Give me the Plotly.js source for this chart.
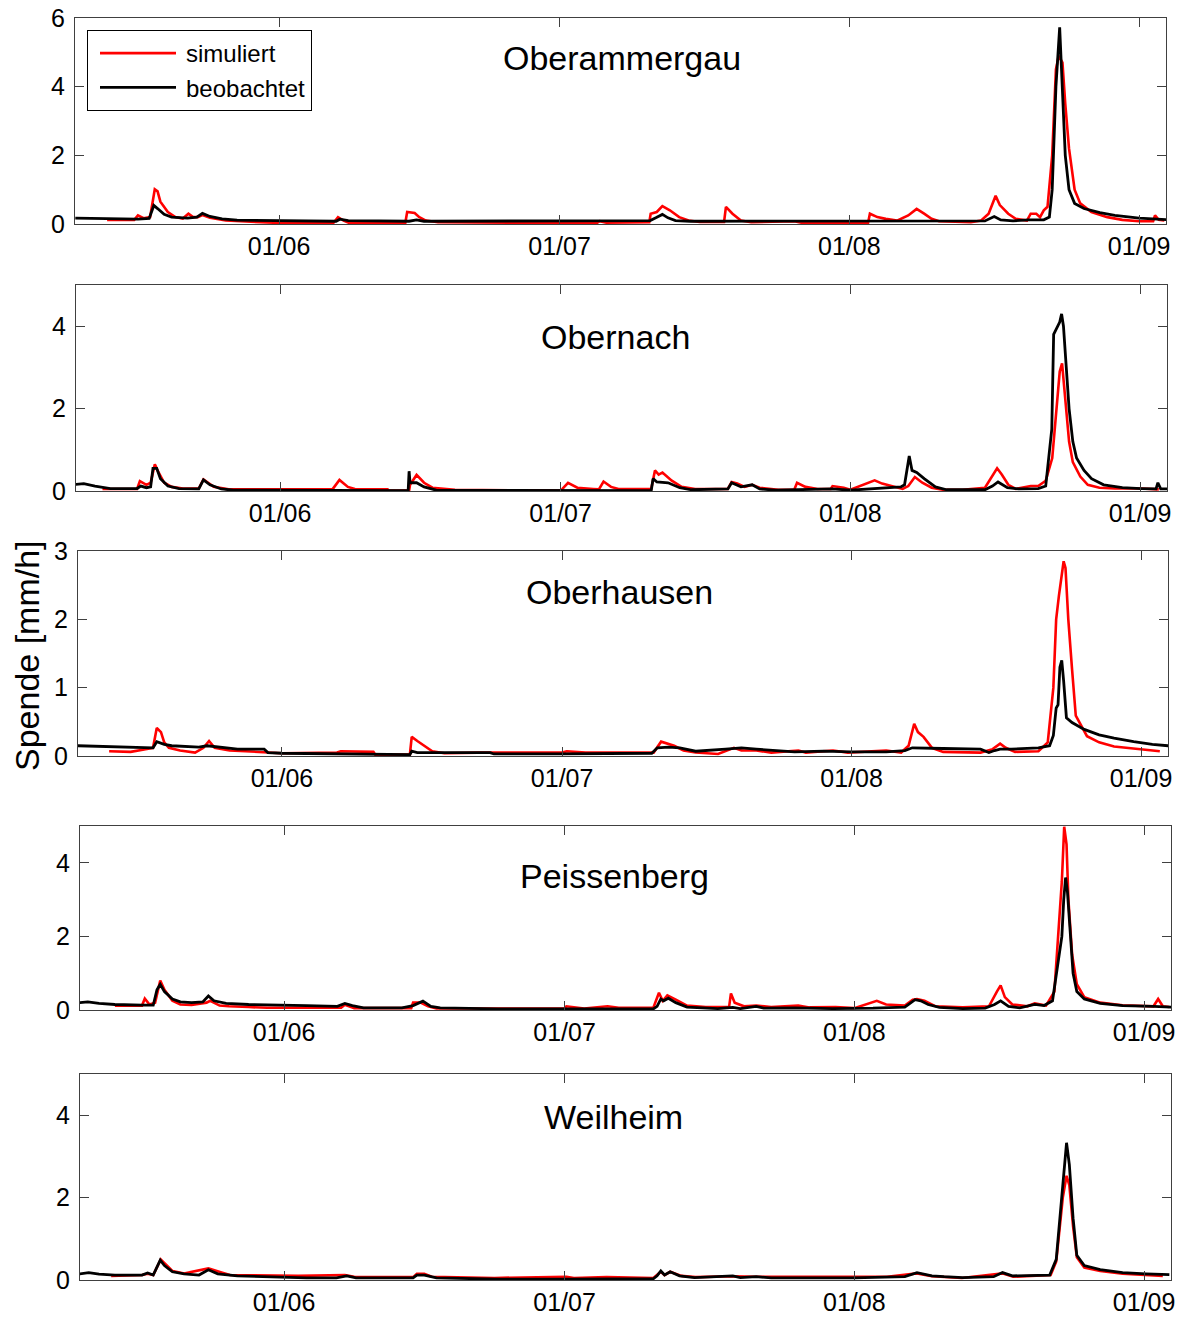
<!DOCTYPE html>
<html>
<head>
<meta charset="utf-8">
<script src="https://cdn.plot.ly/plotly-3.0.1.min.js"></script>
<style>
  html, body { margin: 0; padding: 0; background: #ffffff; }
  #chart { width: 1179px; height: 1317px; }
</style>
</head>
<body>
<div id="chart"></div>
<script>
// Abflussspende, Sommer 2005: simuliert vs. beobachtet
// Zeitangaben: Tage seit 10.05.2005 00:00, Werte in mm/h

const stations = ['Oberammergau', 'Obernach', 'Oberhausen', 'Peissenberg', 'Weilheim'];
const yMax = [6, 5, 3, 5, 5];
const yStep = [2, 2, 1, 2, 2];
const monthTicks = ['2005-06-01', '2005-07-01', '2005-08-01', '2005-09-01'];
const monthLabels = ['01/06', '01/07', '01/08', '01/09'];
const seriesNames = ['simuliert', 'beobachtet'];

// [Tag, Spende]
const oberammergauSim = [
  [3.6,0.12],[6.5,0.12],[6.9,0.25],[7.5,0.17],[8.2,0.2],[8.7,1.01],[9.0,0.95],[9.3,0.65],[10.1,0.35],
  [10.9,0.2],[11.7,0.16],[12.3,0.3],[12.8,0.2],[13.3,0.2],[13.8,0.26],[14.6,0.18],[16.3,0.1],[20.8,0.05],
  [22,0.03],[27.8,0.03],[28.3,0.2],[28.9,0.1],[29.5,0.03],[35.5,0.03],[35.7,0.35],[36.5,0.32],[37.0,0.2],
  [37.7,0.1],[39,0.05],[52,0.03],[56,0.03],[56.3,0.08],[57,0.04],[61.6,0.05],[61.75,0.3],[62.4,0.35],
  [63,0.52],[63.8,0.4],[64.8,0.2],[65.8,0.1],[67,0.06],[69.6,0.06],[69.8,0.5],[70.5,0.3],[71.4,0.1],
  [72.5,0.05],[77.1,0.08],[78,0.03],[85,0.03],[85.2,0.3],[86,0.2],[86.9,0.15],[88.1,0.1],[89.3,0.25],
  [90.2,0.44],[91,0.3],[91.8,0.15],[92.6,0.08],[96,0.05],[97.1,0.1],[97.9,0.3],[98.65,0.82],[99.1,0.55],
  [100,0.3],[100.8,0.15],[102,0.1],[102.4,0.3],[103,0.3],[103.4,0.2],[103.8,0.4],[104.2,0.5],[104.7,2.0],
  [105.1,4.5],[105.4,4.9],[105.8,4.7],[106.1,3.5],[106.5,2.2],[107.1,1.0],[107.7,0.6],[108.9,0.35],
  [110.6,0.2],[112.2,0.12],[114,0.08],[115.5,0.08],[115.7,0.25],[116.1,0.12],[116.7,0.1]
];
const oberammergauObs = [
  [0.2,0.17],[2.4,0.16],[4.4,0.14],[6.9,0.14],[8.1,0.16],[8.6,0.54],[9.0,0.45],[9.7,0.28],[10.5,0.2],
  [12.2,0.17],[13.2,0.2],[13.8,0.31],[14.6,0.22],[15.9,0.15],[17.5,0.11],[22,0.09],[28.1,0.08],[28.5,0.14],
  [29.4,0.1],[35.9,0.08],[36.7,0.12],[37.5,0.08],[56,0.08],[56.2,0.1],[57,0.08],[61.7,0.1],[62.3,0.18],
  [63,0.28],[63.6,0.18],[64.4,0.1],[66,0.08],[77,0.09],[85,0.08],[97.5,0.09],[98.5,0.22],[99.2,0.12],
  [100.5,0.09],[102.2,0.12],[103.8,0.12],[104.4,0.2],[104.7,1.0],[105.1,4.0],[105.5,5.73],[105.8,4.0],
  [106.1,2.0],[106.5,1.0],[107.1,0.6],[108.1,0.45],[109.8,0.33],[111.4,0.25],[114,0.17],[116.9,0.13]
];

const obernachSim = [
  [3,0.05],[6.7,0.05],[7.0,0.24],[7.7,0.15],[8.15,0.2],[8.6,0.65],[9.0,0.45],[9.6,0.2],[10.4,0.1],
  [11.6,0.06],[13.3,0.06],[13.8,0.28],[14.9,0.1],[16.5,0.04],[27.6,0.04],[28.35,0.27],[29.25,0.1],
  [30,0.05],[33.5,0.04],[33.6,0.01],[35.8,0.01],[35.9,0.15],[36.6,0.39],[37.4,0.2],[38.3,0.08],[40.7,0.03],
  [52,0.01],[52.2,0.05],[52.8,0.2],[53.8,0.08],[55.5,0.05],[56.1,0.04],[56.6,0.23],[57.4,0.1],[58.2,0.05],
  [61.7,0.05],[62.1,0.5],[62.5,0.4],[62.9,0.45],[63.9,0.25],[64.95,0.1],[66.4,0.05],[69.9,0.05],[70.3,0.22],
  [70.9,0.18],[71.7,0.1],[72.5,0.15],[73.3,0.08],[75.3,0.03],[77,0.03],[77.3,0.2],[78.2,0.1],[79.5,0.05],
  [80.9,0.05],[81.1,0.12],[81.7,0.1],[82.3,0.08],[83,0.03],[85.6,0.26],[86.4,0.18],[88,0.08],[88.6,0.05],
  [89.2,0.12],[89.9,0.34],[90.7,0.2],[91.7,0.08],[92.9,0.03],[95,0.03],[97.4,0.08],[98.2,0.35],[98.7,0.55],
  [99.2,0.4],[99.9,0.15],[100.7,0.05],[102.3,0.12],[103.1,0.12],[103.9,0.25],[104.6,0.8],[105,1.8],
  [105.4,2.9],[105.65,3.1],[106,2.2],[106.4,1.2],[106.8,0.7],[107.6,0.35],[108.4,0.15],[109.65,0.08],
  [111.3,0.06],[114.1,0.06],[116,0.04]
];
const obernachObs = [
  [0.15,0.16],[1.0,0.18],[2.2,0.12],[3.85,0.06],[6.7,0.06],[7.1,0.12],[7.7,0.08],[8.15,0.1],[8.4,0.55],
  [8.8,0.55],[9.2,0.3],[10,0.12],[11.2,0.06],[13.3,0.05],[13.8,0.27],[14.5,0.15],[15.7,0.05],[17,0.02],
  [35.7,0.01],[35.8,0.48],[35.9,0.2],[36.6,0.2],[37.4,0.1],[38.7,0.02],[61.7,0.01],[61.9,0.3],[62.3,0.22],
  [63.5,0.2],[64.75,0.08],[66,0.03],[69.9,0.05],[70.3,0.2],[71.3,0.1],[72.5,0.15],[73.3,0.05],[75,0.02],
  [81.1,0.05],[83,0.02],[88.4,0.1],[88.8,0.15],[89.3,0.85],[89.6,0.5],[90.1,0.45],[90.9,0.3],[92.1,0.1],
  [93.3,0.03],[97.4,0.03],[98.2,0.12],[98.8,0.22],[99.8,0.08],[101,0.05],[103.1,0.06],[103.9,0.12],
  [104.55,1.5],[104.75,3.8],[105.1,3.95],[105.4,4.1],[105.6,4.3],[105.8,4.0],[106.1,3.0],[106.4,2.0],
  [106.8,1.2],[107.2,0.8],[108,0.5],[108.8,0.3],[110.1,0.15],[112.1,0.08],[114.1,0.06],[115.7,0.05],
  [115.9,0.2],[116.2,0.05],[116.9,0.05]
];

const oberhausenSim = [
  [3.5,0.07],[5.8,0.06],[7.4,0.1],[8.2,0.12],[8.6,0.41],[9.05,0.35],[9.4,0.2],[9.9,0.12],[11.1,0.08],
  [12.7,0.05],[13.6,0.12],[14.2,0.22],[14.8,0.12],[16.4,0.08],[18.1,0.07],[20.5,0.05],[22,0.04],[27.9,0.05],
  [28.3,0.07],[31.8,0.06],[32,0.02],[35.7,0.02],[35.9,0.28],[36.5,0.22],[37.3,0.15],[38.1,0.07],[39.4,0.04],
  [43,0.05],[52,0.05],[52.5,0.07],[54.5,0.05],[61.8,0.05],[62.6,0.21],[63.2,0.18],[64,0.15],[65,0.08],
  [66.3,0.05],[68.7,0.03],[70.4,0.12],[71.2,0.08],[72.8,0.08],[74.4,0.05],[77.3,0.08],[78.1,0.05],[81,0.08],
  [82.6,0.05],[86.7,0.08],[88.3,0.05],[89.1,0.15],[89.7,0.47],[90.1,0.35],[90.7,0.28],[91.6,0.12],[92.8,0.06],
  [96.8,0.05],[98.1,0.1],[98.9,0.18],[99.5,0.12],[100.5,0.06],[103,0.07],[104,0.2],[104.6,1.0],[104.9,2.0],
  [105.2,2.35],[105.5,2.65],[105.7,2.85],[105.9,2.75],[106.2,2.0],[106.6,1.27],[107.0,0.59],[108.2,0.29],
  [109.5,0.2],[111.1,0.14],[113.2,0.11],[116,0.07]
];
const oberhausenObs = [
  [0.15,0.15],[3,0.14],[7.4,0.13],[8.2,0.12],[8.6,0.21],[9.4,0.17],[10.2,0.15],[13.1,0.13],[14,0.15],
  [14.8,0.14],[17.25,0.1],[20.1,0.1],[20.5,0.05],[22,0.04],[32,0.03],[35.7,0.02],[35.9,0.07],[36.5,0.05],
  [44.3,0.05],[44.7,0.03],[52,0.03],[61.6,0.04],[62.2,0.12],[63.4,0.13],[64.6,0.12],[66.3,0.07],[69.5,0.1],
  [71.2,0.12],[72.8,0.1],[75.3,0.07],[76.9,0.06],[80,0.07],[83,0.06],[86.7,0.06],[88.7,0.08],[89.5,0.12],
  [90.7,0.12],[92.8,0.11],[96.8,0.1],[97.7,0.05],[98.3,0.08],[98.9,0.1],[100.1,0.1],[103,0.12],[104.2,0.15],
  [104.6,0.3],[104.9,0.7],[105.1,0.75],[105.3,1.3],[105.5,1.4],[105.7,1.1],[106,0.56],[106.6,0.49],
  [107.9,0.39],[109.5,0.31],[111.1,0.26],[113.2,0.21],[115.2,0.17],[116.9,0.15]
];

const peissenbergSim = [
  [3.9,0.12],[6.8,0.12],[7.1,0.31],[7.6,0.15],[8.2,0.2],[8.75,0.8],[9.2,0.55],[10.05,0.25],[10.9,0.15],
  [12.1,0.14],[13.7,0.2],[14.1,0.25],[15.1,0.12],[16.1,0.1],[18.2,0.08],[20.2,0.06],[28.1,0.06],[28.5,0.14],
  [29.5,0.05],[35.6,0.05],[35.8,0.2],[36.6,0.2],[37.4,0.1],[38.3,0.04],[44,0.04],[52,0.04],[52.2,0.1],
  [53.4,0.05],[54.1,0.04],[56.6,0.1],[57.8,0.06],[61.5,0.06],[62.1,0.47],[62.5,0.25],[63,0.4],[63.9,0.28],
  [65.1,0.12],[67.1,0.08],[69.6,0.08],[69.8,0.45],[70.2,0.2],[71.2,0.1],[72.5,0.12],[74.1,0.08],[77,0.12],
  [78.2,0.07],[81,0.08],[83,0.05],[85.4,0.25],[86.4,0.15],[88.4,0.12],[89.25,0.28],[89.7,0.3],[90.5,0.25],
  [91.7,0.1],[94.6,0.07],[97.4,0.1],[98.25,0.5],[98.65,0.67],[99.1,0.35],[99.9,0.15],[101.5,0.1],[102.3,0.18],
  [103.5,0.12],[104.4,0.5],[104.8,2.0],[105.2,3.5],[105.45,4.98],[105.7,4.5],[105.9,3.0],[106.3,1.5],
  [106.8,0.7],[107.6,0.35],[109.3,0.2],[111.7,0.13],[115,0.1],[115.5,0.3],[116,0.1],[116.7,0.08]
];
const peissenbergObs = [
  [0.15,0.2],[1,0.22],[2.2,0.18],[3.9,0.15],[6.8,0.13],[8,0.13],[8.4,0.55],[8.75,0.7],[9.2,0.5],[10.05,0.3],
  [10.9,0.22],[12.1,0.2],[13.3,0.22],[13.9,0.38],[14.5,0.25],[15.8,0.18],[18.2,0.15],[22,0.12],[24.4,0.12],
  [27.7,0.1],[28.5,0.18],[29.3,0.12],[30.5,0.06],[34.6,0.06],[35.8,0.12],[36.85,0.24],[37.7,0.1],[38.7,0.06],
  [41.6,0.05],[44.9,0.03],[52,0.03],[61.5,0.03],[61.9,0.1],[62.3,0.3],[62.6,0.25],[63.1,0.32],[63.9,0.2],
  [65.1,0.08],[68.4,0.04],[70,0.07],[70.8,0.04],[72.5,0.1],[73.3,0.05],[76.6,0.06],[80.7,0.04],[85,0.05],
  [88.4,0.08],[89.5,0.28],[90.1,0.25],[90.9,0.15],[92.1,0.07],[94.6,0.04],[97,0.05],[98.0,0.15],[98.65,0.25],
  [99.5,0.1],[100.7,0.06],[102.3,0.15],[103.3,0.12],[104.2,0.25],[104.8,1.3],[105.2,2.0],[105.4,3.0],
  [105.6,3.6],[105.8,3.2],[106.1,2.0],[106.4,1.0],[106.8,0.5],[107.6,0.3],[109.3,0.18],[111.7,0.12],
  [115,0.1],[116.9,0.08]
];

const weilheimSim = [
  [3.5,0.1],[6.8,0.12],[7.4,0.15],[8,0.12],[8.8,0.5],[10.05,0.22],[11.3,0.16],[13.9,0.28],[16.2,0.12],
  [20.2,0.1],[23.5,0.1],[28.5,0.12],[29.5,0.08],[32.5,0.07],[35.8,0.07],[36.2,0.15],[37,0.15],[37.8,0.08],
  [42.8,0.07],[44.5,0.05],[52.2,0.08],[53,0.05],[56.5,0.07],[61.5,0.05],[62.3,0.2],[62.7,0.12],[63.3,0.2],
  [64.5,0.1],[66,0.07],[70,0.09],[72.5,0.08],[77,0.08],[81,0.07],[86.5,0.08],[89.7,0.16],[91.3,0.09],
  [94.5,0.05],[98.9,0.16],[100,0.08],[102.7,0.1],[104,0.12],[104.6,0.45],[105,1.4],[105.3,2.0],[105.7,2.53],
  [106,2.3],[106.4,1.3],[106.8,0.55],[107.6,0.3],[109.3,0.22],[111.7,0.15],[114.2,0.12],[116,0.1]
];
const weilheimObs = [
  [0.15,0.15],[1.1,0.18],[2.2,0.14],[3.9,0.12],[6.8,0.12],[7.4,0.17],[8,0.12],[8.75,0.48],[9.2,0.35],
  [10.05,0.2],[11.3,0.15],[12.9,0.12],[13.9,0.25],[14.9,0.15],[17,0.1],[20.2,0.08],[24.4,0.05],[27.6,0.05],
  [28.7,0.1],[29.7,0.05],[35.8,0.05],[36.2,0.12],[37,0.12],[38.3,0.05],[42.8,0.03],[45,0.02],[52,0.02],
  [61.5,0.03],[61.9,0.1],[62.3,0.22],[62.7,0.12],[63.3,0.2],[64.3,0.1],[65.9,0.06],[70,0.1],[70.8,0.06],
  [72.5,0.08],[74.1,0.05],[83,0.05],[88.4,0.08],[89.7,0.18],[91.3,0.1],[92.6,0.08],[94.6,0.06],[97.9,0.08],
  [98.85,0.18],[99.9,0.1],[102.7,0.12],[103.9,0.12],[104.6,0.5],[105,1.6],[105.3,2.4],[105.7,3.33],[106,2.8],
  [106.4,1.5],[106.8,0.6],[107.6,0.35],[109.3,0.25],[111.7,0.18],[114.2,0.15],[116.7,0.13]
];

const simData = [oberammergauSim, obernachSim, oberhausenSim, peissenbergSim, weilheimSim];
const obsData = [oberammergauObs, obernachObs, oberhausenObs, peissenbergObs, weilheimObs];

// ---- Darstellung ----
const W = 1179, H = 1317;
const FONT = '"Liberation Sans", Arial, Helvetica, sans-serif';
const t0 = Date.UTC(2005, 4, 10);
const xRange = ['2005-05-10 04:00', '2005-09-03 21:00'];

// Plotbereiche in Pixeln: [links, rechts, oben, unten]
const boxes = [
  [75, 1166, 18, 224],
  [76, 1167, 285, 491],
  [78, 1168, 551, 756],
  [80, 1171, 826, 1010],
  [80, 1171, 1074, 1280]
];
const titlePos = [[622, 58], [615, 337], [619, 592], [614, 876], [613, 1117]];

function toDate(day) {
  return new Date(t0 + day * 86400000).toISOString().slice(0, 19).replace('T', ' ');
}
function series(pairs) {
  return { x: pairs.map(p => toDate(p[0])), y: pairs.map(p => p[1]) };
}

const traces = [];
const layout = {
  width: W, height: H,
  margin: { l: 0, r: 0, t: 0, b: 0, pad: 0 },
  paper_bgcolor: '#ffffff', plot_bgcolor: '#ffffff',
  font: { family: FONT, size: 25, color: '#000000' },
  showlegend: true,
  legend: {
    x: 87 / W, y: 1 - 30 / H, xanchor: 'left', yanchor: 'top',
    bgcolor: '#ffffff', bordercolor: '#000000', borderwidth: 1,
    font: { family: FONT, size: 24, color: '#000000' },
    itemwidth: 88, tracegroupgap: 0
  },
  annotations: [],
  hovermode: false
};

stations.forEach((name, i) => {
  const k = i + 1;
  const xa = 'x' + (k === 1 ? '' : k), ya = 'y' + (k === 1 ? '' : k);
  const sim = series(simData[i]), obs = series(obsData[i]);
  traces.push({
    type: 'scatter', mode: 'lines', x: sim.x, y: sim.y, xaxis: xa, yaxis: ya,
    name: seriesNames[0], legendgroup: 'sim', showlegend: i === 0,
    line: { color: '#ff0000', width: 2.6 }
  });
  traces.push({
    type: 'scatter', mode: 'lines', x: obs.x, y: obs.y, xaxis: xa, yaxis: ya,
    name: seriesNames[1], legendgroup: 'obs', showlegend: i === 0,
    line: { color: '#000000', width: 2.8 }
  });

  const b = boxes[i];
  const axisCommon = {
    showline: true, linecolor: '#404040', linewidth: 1, mirror: 'ticks',
    ticks: 'inside', ticklen: 9, tickwidth: 1, tickcolor: '#404040',
    showgrid: false, zeroline: false, fixedrange: true,
    tickfont: { family: FONT, size: 25, color: '#000000' }
  };
  layout['xaxis' + (k === 1 ? '' : k)] = Object.assign({}, axisCommon, {
    type: 'date', anchor: ya, domain: [b[0] / W, b[1] / W], range: xRange,
    tickmode: 'array', tickvals: monthTicks, ticktext: monthLabels
  });
  layout['yaxis' + (k === 1 ? '' : k)] = Object.assign({}, axisCommon, {
    anchor: xa, domain: [1 - b[3] / H, 1 - b[2] / H], range: [0, yMax[i]],
    tick0: 0, dtick: yStep[i], ticklabelstandoff: 4
  });

  layout.annotations.push({
    text: name, xref: 'paper', yref: 'paper',
    x: titlePos[i][0] / W, y: 1 - titlePos[i][1] / H,
    xanchor: 'center', yanchor: 'middle', showarrow: false,
    font: { family: FONT, size: 34, color: '#000000' }
  });
});

layout.annotations.push({
  text: 'Spende [mm/h]', xref: 'paper', yref: 'paper',
  x: 27 / W, y: 1 - 656 / H, xanchor: 'center', yanchor: 'middle',
  textangle: -90, showarrow: false,
  font: { family: FONT, size: 34, color: '#000000' }
});

Plotly.newPlot('chart', traces, layout, { staticPlot: true, displayModeBar: false }).then(gd => {
  // longer line samples in the legend, filling the item width
  gd.querySelectorAll('.legend .legendlines path').forEach(p => p.setAttribute('d', 'M12,0h76'));
});
</script>
</body>
</html>
